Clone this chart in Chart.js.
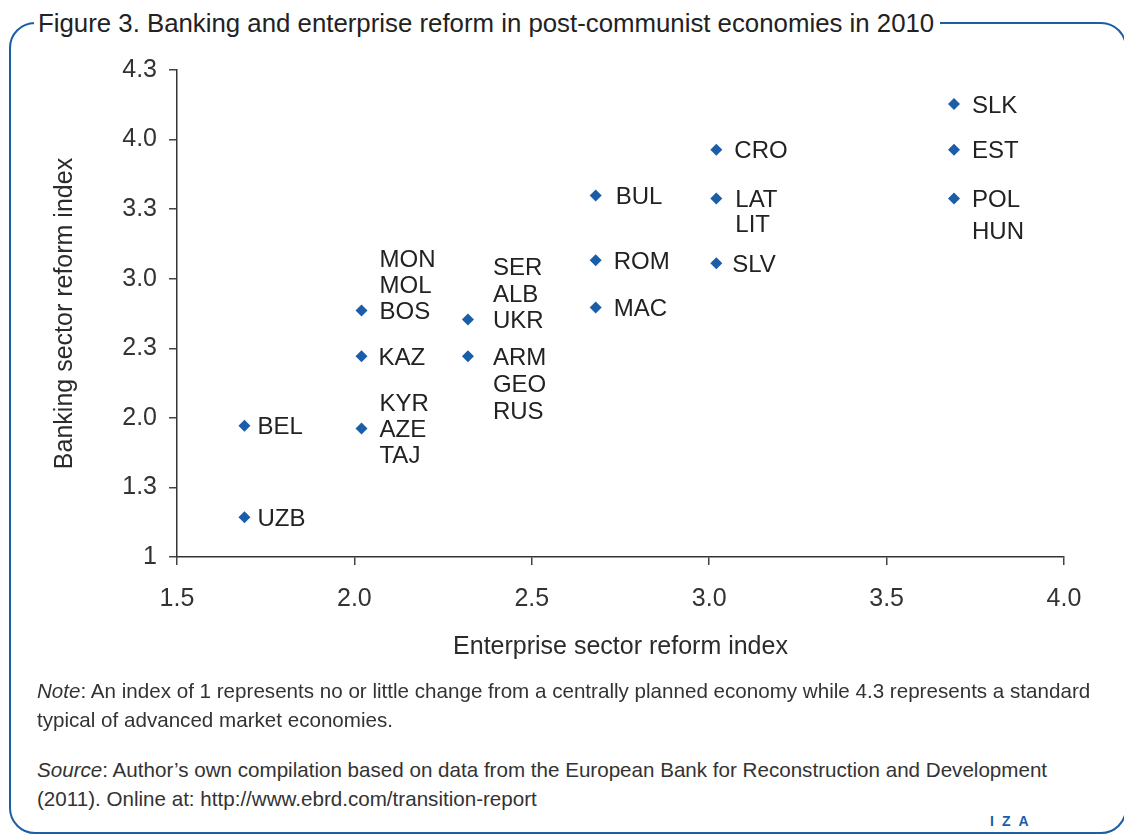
<!DOCTYPE html>
<html>
<head>
<meta charset="utf-8">
<script src="https://cdn.jsdelivr.net/npm/chart.js@4.4.1/dist/chart.umd.min.js"></script>
<style>
  html, body { margin: 0; padding: 0; background: #fff; }
  body { width: 1124px; height: 834px; position: relative; overflow: hidden;
         font-family: "Liberation Sans", Arial, sans-serif; color: #2b2b2b; }
  #frame { position: absolute; left: 9px; top: 22px; width: 1114px; height: 808px;
           border: 2.5px solid #1b5ea8; border-radius: 26px; }
  #title { position: absolute; left: 34px; top: 7px; background: #fff; padding: 0 6px 0 4px;
           font-size: 25.8px; line-height: 32px; white-space: nowrap; color: #222; }
  #wrap { position: absolute; left: 0; top: 0; width: 1124px; height: 680px; }
  .note { position: absolute; left: 37px; font-size: 20.6px; line-height: 29px; color: #333; white-space: nowrap; }
  #iza { position: absolute; left: 990px; top: 813px; font: bold 14px "Liberation Sans", Arial, sans-serif;
         color: #1b5ea8; letter-spacing: 8px; }
</style>
</head>
<body>
<div id="frame"></div>
<div id="title">Figure 3. Banking and enterprise reform in post-communist economies in 2010</div>
<div id="wrap"><canvas id="chart" width="1124" height="680"></canvas></div>
<div class="note" style="top:676px"><i>Note</i>: An index of 1 represents no or little change from a centrally planned economy while 4.3 represents a standard<br>typical of advanced market economies.</div>
<div class="note" style="top:755px"><i>Source</i>: Author’s own compilation based on data from the European Bank for Reconstruction and Development<br>(2011). Online at: http://www.ebrd.com/transition-report</div>
<div id="iza">IZA</div>
<script>
// values
const countries = [['SLK'], ['EST'], ['POL', 'HUN'], ['CRO'], ['LAT', 'LIT'], ['SLV'],
  ['BUL'], ['ROM'], ['MAC'], ['SER', 'ALB', 'UKR'], ['ARM', 'GEO', 'RUS'],
  ['MON', 'MOL', 'BOS'], ['KAZ'], ['KYR', 'AZE', 'TAJ'], ['BEL'], ['UZB']];
const enterprise = [3.69, 3.69, 3.69, 3.02, 3.02, 3.02, 2.68, 2.68, 2.68, 2.32, 2.32, 2.02, 2.02, 2.02, 1.69, 1.69];
const banking = [4.07, 3.76, 3.43, 3.76, 3.43, 2.99, 3.45, 3.01, 2.69, 2.61, 2.36, 2.67, 2.36, 1.87, 1.89, 1.27];
const yTickLabels = ['1', '1.3', '2.0', '2.3', '3.0', '3.3', '4.0', '4.3'];
const xTicks = [1.5, 2.0, 2.5, 3.0, 3.5, 4.0];

// label placement: [dx, index of the line level with the point, line gap]
const labelPos = [[18, 0, 26], [18, 0, 26], [18, 0, 32], [18, 0, 26], [19, 0, 25], [16, 0, 26],
  [20, 0, 26], [18, 0, 26], [18, 0, 26], [25, 2, 26.5], [25, 0, 27], [18, 2, 26],
  [17, 0, 26], [18, 1, 26], [13, 0, 26], [13, 0, 26]];

const yStep = (4.3 - 1) / (yTickLabels.length - 1);
const font = "Liberation Sans, Arial, sans-serif";

const pointLabels = {
  id: 'pointLabels',
  afterDatasetsDraw(chart) {
    const ctx = chart.ctx;
    const pts = chart.getDatasetMeta(0).data;
    ctx.save();
    ctx.font = '24px ' + font;
    ctx.fillStyle = '#222';
    ctx.textBaseline = 'middle';
    ctx.textAlign = 'left';
    pts.forEach((p, i) => {
      const [dx, anchor, gap] = labelPos[i];
      countries[i].forEach((name, j) => {
        ctx.fillText(name, p.x + dx, p.y + 2 + (j - anchor) * gap);
      });
    });
    ctx.restore();
  }
};

new Chart(document.getElementById('chart'), {
  type: 'scatter',
  data: {
    datasets: [{
      data: enterprise.map((x, i) => ({ x: x, y: banking[i] })),
      pointStyle: 'rectRot',
      pointRadius: 6,
      backgroundColor: '#1b5ea8',
      borderColor: '#1b5ea8',
      borderWidth: 0
    }]
  },
  options: {
    responsive: false,
    animation: false,
    layout: { padding: { top: 70, right: 60, left: 0, bottom: 0 } },
    plugins: { legend: { display: false }, tooltip: { enabled: false } },
    scales: {
      x: {
        type: 'linear', min: 1.5, max: 4.0,
        afterBuildTicks: s => { s.ticks = xTicks.map(v => ({ value: v })); },
        afterFit: s => { s.height = 123; },
        grid: { drawOnChartArea: false, drawTicks: true, tickLength: 8, color: '#444', lineWidth: 1.5 },
        border: { display: true, color: '#333', width: 1.5 },
        ticks: { color: '#333', font: { family: font, size: 25 }, padding: 19,
                 callback: v => v.toFixed(1) },
        title: { display: true, text: 'Enterprise sector reform index', color: '#2b2b2b',
                 font: { family: font, size: 25 }, padding: { bottom: 18 } }
      },
      y: {
        type: 'linear', min: 1, max: 4.3,
        afterBuildTicks: s => { s.ticks = yTickLabels.map((l, i) => ({ value: 1 + i * yStep })); },
        afterFit: s => { s.width = 177; },
        grid: { drawOnChartArea: false, drawTicks: true, tickLength: 8, color: '#444', lineWidth: 1.5 },
        border: { display: true, color: '#333', width: 1.5 },
        ticks: { color: '#333', font: { family: font, size: 25 }, padding: 12,
                 callback: (v, i) => yTickLabels[i] },
        title: { display: true, text: 'Banking sector reform index', color: '#2b2b2b',
                 font: { family: font, size: 25 }, padding: { top: 50 } }
      }
    }
  },
  plugins: [pointLabels]
});
</script>
</body>
</html>
